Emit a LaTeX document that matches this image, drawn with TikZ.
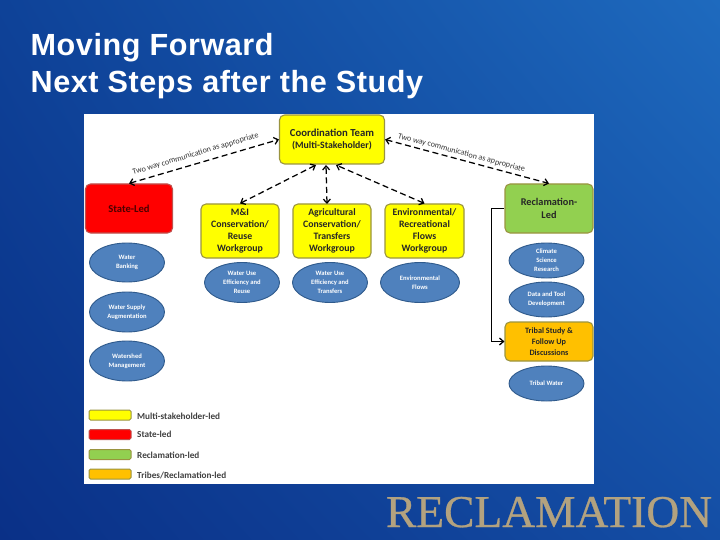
\documentclass[tikz,border=0pt]{standalone}
\usepackage{fontspec}
\setmainfont{Carlito}
\newfontfamily\titlefont[LetterSpace=1.8]{Liberation Sans}
\newfontfamily\logofont[FakeBold=0.6]{Liberation Serif}
\usetikzlibrary{arrows.meta,shapes.geometric,shadings}
\definecolor{bluefill}{HTML}{4F81BD}
\definecolor{blueline}{HTML}{2F5A8C}
\definecolor{yelfill}{HTML}{FFFF00}
\definecolor{redfill}{HTML}{FF0000}
\definecolor{grnfill}{HTML}{92D050}
\definecolor{orgfill}{HTML}{FFC000}
\definecolor{edgeolive}{HTML}{9A9440}
\definecolor{edgered}{HTML}{C0504D}
\definecolor{logotan}{HTML}{B3A27F}
\definecolor{bgll}{RGB}{10,48,135}
\definecolor{bgul}{RGB}{14,66,152}
\definecolor{bgur}{RGB}{30,106,190}
\definecolor{bglr}{RGB}{20,78,165}
\tikzset{
  x=1pt,y=-1pt,
  panelbox/.style={rectangle,rounded corners=5pt,draw=edgeolive,line width=1.1pt,inner sep=0pt,align=center,font=\fontsize{9.8}{12}\selectfont\bfseries,text=black!85},
  bluell/.style={ellipse,draw=blueline,line width=0.9pt,fill=bluefill,inner sep=0pt,align=center,text=white,font=\fontsize{6.6}{9}\selectfont\bfseries},
  legbox/.style={rectangle,rounded corners=1.5pt,draw=edgeolive,line width=1pt,minimum width=42pt,minimum height=10pt,inner sep=0pt},
  legtxt/.style={anchor=west,inner sep=0pt,font=\fontsize{9.2}{11}\selectfont\bfseries,text=black!75},
  twoway/.style={black,line width=1.25pt,dash pattern=on 6pt off 3.5pt,{Straight Barb[length=4pt,width=7pt]}-{Straight Barb[length=4pt,width=7pt]}},
  commtxt/.style={inner sep=0pt,font=\fontsize{8.1}{10}\selectfont,text=black!80},
  slidetitle/.style={anchor=base west,inner sep=0pt,text=white,font=\titlefont\bfseries\fontsize{30.6}{36}\selectfont},
}
\begin{document}
\begin{tikzpicture}
\useasboundingbox (0,0) rectangle (720,540);
\shade[lower left=bgll,upper left=bgul,upper right=bgur,lower right=bglr] (0,0) rectangle (720,540);
\fill[white] (84,114) rectangle (594,484);
\node[slidetitle] (t1) at (30.5,55.7) {Moving Forward};
\node[slidetitle] (t2) at (30.5,93) {Next Steps after the Study};
\node[anchor=base,inner sep=0pt,text=logotan,font=\logofont\fontsize{45.5}{50}\selectfont] (logo) at (549,527) {RECLAMATION};

\node[panelbox,fill=yelfill,minimum width=105pt,minimum height=49pt] (coord) at (332,139.5) {{\fontsize{10.7}{13}\selectfont Coordination Team}\\(Multi-Stakeholder)};
\node[panelbox,draw=edgered,fill=redfill,minimum width=87pt,minimum height=49pt,text=black!70!red,font=\fontsize{10.6}{13}\selectfont\bfseries] (state) at (129,208.5) {State-Led};
\node[panelbox,fill=yelfill,minimum width=78pt,minimum height=54pt] (mi) at (240,231) {M\&I\\Conservation/\\Reuse\\Workgroup};
\node[panelbox,fill=yelfill,minimum width=78pt,minimum height=54pt] (ag) at (332,231) {Agricultural\\Conservation/\\Transfers\\Workgroup};
\node[panelbox,fill=yelfill,minimum width=79pt,minimum height=54pt] (env) at (424.5,231) {Environmental/\\Recreational\\Flows\\Workgroup};
\node[panelbox,fill=grnfill,minimum width=88pt,minimum height=49pt,font=\fontsize{10.3}{13.5}\selectfont\bfseries] (recl) at (549,208.5) {Reclamation-\\Led};
\node[panelbox,fill=orgfill,minimum width=88pt,minimum height=39pt,font=\fontsize{8.2}{11}\selectfont\bfseries] (tribal) at (549,341.5) {Tribal Study \&\\Follow Up\\Discussions};

\node[bluell,minimum width=75pt,minimum height=39pt] (wb) at (127,262.5) {Water\\Banking};
\node[bluell,minimum width=75pt,minimum height=40pt] (ws) at (127,312) {Water Supply\\Augmentation};
\node[bluell,minimum width=75pt,minimum height=40pt] (wm) at (127,361) {Watershed\\Management};
\node[bluell,minimum width=75pt,minimum height=40pt] (wu1) at (242,282.5) {Water Use\\Efficiency and\\Reuse};
\node[bluell,minimum width=75pt,minimum height=40pt] (wu2) at (330,282.5) {Water Use\\Efficiency and\\Transfers};
\node[bluell,minimum width=79pt,minimum height=40pt] (ef) at (420,282.5) {Environmental\\Flows};
\node[bluell,minimum width=75pt,minimum height=35pt] (cs) at (546.5,260.5) {Climate\\Science\\Research};
\node[bluell,minimum width=75pt,minimum height=35pt] (dt) at (546.5,299.5) {Data and Tool\\Development};
\node[bluell,minimum width=75pt,minimum height=35pt] (tw) at (546.5,383.5) {Tribal Water};

\node[legbox,fill=yelfill] (l1) at (110,415) {};
\node[legbox,draw=edgered,fill=redfill] (l2) at (110,434.5) {};
\node[legbox,fill=grnfill] (l3) at (110,454.5) {};
\node[legbox,fill=orgfill] (l4) at (110,474) {};
\node[legtxt] (lt1) at (137,416) {Multi-stakeholder-led};
\node[legtxt] (lt2) at (137,434.5) {State-led};
\node[legtxt] (lt3) at (137,455.5) {Reclamation-led};
\node[legtxt] (lt4) at (137,475.5) {Tribes/Reclamation-led};

\coordinate (c1) at (316,165);
\coordinate (c2) at (326,165);
\coordinate (c3) at (336,165);
\coordinate (a2) at (327,204);
\draw[twoway] (state.north) -- (coord.west);
\draw[twoway] (mi.north) -- (c1);
\draw[twoway] (a2) -- (c2);
\draw[twoway] (env.north) -- (c3);
\draw[twoway] (coord.east) -- (recl.north);
\draw[black,line width=1.3pt,-{Straight Barb[length=4pt,width=7pt]}] (recl.west) -- ++(-13,0) |- (tribal.west);

\node[commtxt,rotate=16.5] (cl) at (195.5,154) {Two way communication as appropriate};
\node[commtxt,rotate=-15] (cr) at (461.5,153) {Two way communication as appropriate};
\end{tikzpicture}
\end{document}
